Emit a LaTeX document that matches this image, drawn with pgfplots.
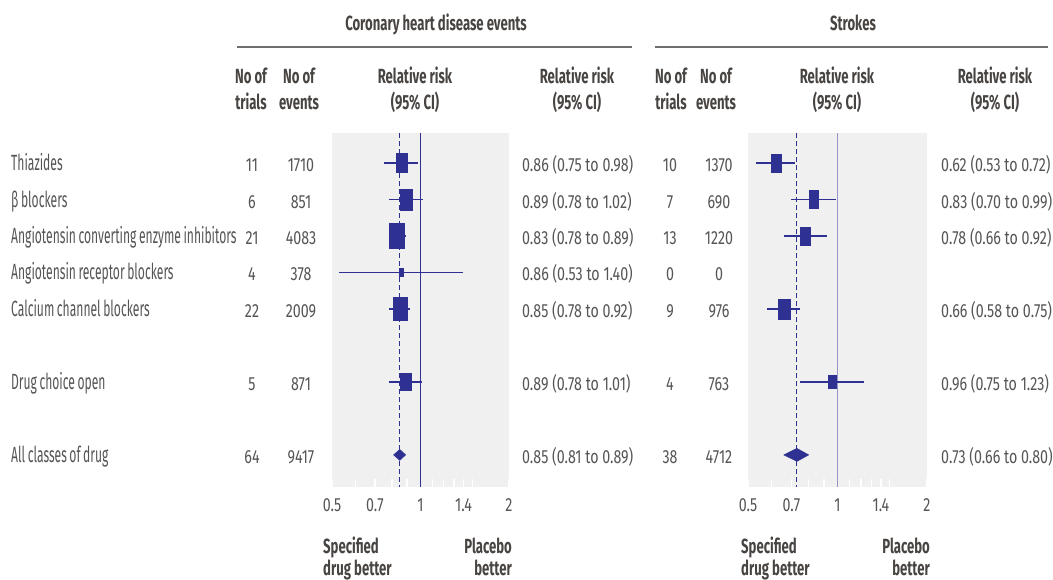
\documentclass[border=0pt]{standalone}
\usepackage{fontspec}
\setmainfont{Fira Sans}[FakeStretch=0.55, WordSpace=0.8]
\newfontfamily\numfont{Fira Sans}[FakeStretch=0.75]
\newfontfamily\hdrfont{Fira Sans}[FakeStretch=0.64]
\usepackage{pgfplots}
\pgfplotsset{compat=1.18}
\definecolor{navy}{RGB}{46,49,146}
\definecolor{refl}{RGB}{150,150,200}
\definecolor{txt}{RGB}{85,85,85}
\definecolor{hdr}{RGB}{72,68,66}
\definecolor{bg}{RGB}{240,240,240}
\definecolor{rule}{RGB}{110,110,110}

\newcommand{\lfont}{\fontsize{22}{24}\selectfont}
\newcommand{\nfont}{\numfont\fontsize{19}{21}\selectfont}
\newcommand{\hfont}{\hdrfont\bfseries\fontsize{20.5}{23}\selectfont}

\tikzset{cibar/.style={navy, line width=1.4pt},
  bx/.style={only marks, mark=square*, color=navy, mark options={xscale=#1, fill=navy, draw=navy, line width=0.1pt}}}

\begin{document}
\begin{tikzpicture}
\path[use as bounding box] (0,0) rectangle (1053pt,-579pt);

\begin{axis}[width=177pt, height=354pt, scale only axis, at={(332pt,-487pt)}, anchor=south west,
  xmode=log, xmin=0.5, xmax=2, ymin=0.18, ymax=9.88, y dir=reverse, clip=false,
  axis background/.style={fill=bg}, axis line style={draw=none},
  ytick=\empty, xtick={0.5,0.7,1,1.4,2}, xticklabels={0.5,0.7,1,1.4,2},
  minor xtick={0.6,0.8,0.9,1.1,1.2,1.3,1.5},
  tick align=inside, xtick pos=bottom, major tick length=8pt, minor tick length=8pt,
  every tick/.style={white, line width=1.2pt},
  xticklabel style={font=\nfont, text=txt, anchor=base, inner sep=0pt, yshift=-24.7pt}]
\addplot[navy, line width=1pt, dash pattern=on 5pt off 3pt] coordinates {(0.85,0.18) (0.85,9.88)};
\addplot[navy, line width=1pt] coordinates {(1,0.18) (1,9.88)};
\addplot[cibar] coordinates {(0.75,1) (0.98,1)};
\addplot[cibar] coordinates {(0.78,2) (1.02,2)};
\addplot[cibar] coordinates {(0.78,3) (0.89,3)};
\addplot[cibar] coordinates {(0.53,4) (1.40,4)};
\addplot[cibar] coordinates {(0.78,5) (0.92,5)};
\addplot[cibar] coordinates {(0.78,7) (1.01,7)};
\addplot[bx=0.58, mark size=9.5pt] coordinates {(0.86,1)};
\addplot[bx=0.57, mark size=10.5pt] coordinates {(0.89,2)};
\addplot[bx=0.60, mark size=12.5pt] coordinates {(0.83,3)};
\addplot[bx=0.50, mark size=4pt] coordinates {(0.86,4)};
\addplot[bx=0.61, mark size=11.5pt] coordinates {(0.85,5)};
\addplot[bx=0.65, mark size=8.5pt] coordinates {(0.89,7)};
\addplot[fill=navy, draw=navy, line width=0.5pt] coordinates {(0.81,9) (0.85,8.85) (0.89,9) (0.85,9.15)} -- cycle;
\end{axis}

\begin{axis}[width=179pt, height=354pt, scale only axis, at={(748pt,-487pt)}, anchor=south west,
  xmode=log, xmin=0.5, xmax=2, ymin=0.18, ymax=9.88, y dir=reverse, clip=false,
  axis background/.style={fill=bg}, axis line style={draw=none},
  ytick=\empty, xtick={0.5,0.7,1,1.4,2}, xticklabels={0.5,0.7,1,1.4,2},
  minor xtick={0.6,0.8,0.9,1.1,1.2,1.3,1.5},
  tick align=inside, xtick pos=bottom, major tick length=8pt, minor tick length=8pt,
  every tick/.style={white, line width=1.2pt},
  xticklabel style={font=\nfont, text=txt, anchor=base, inner sep=0pt, yshift=-24.7pt}]
\addplot[navy, line width=1pt, dash pattern=on 5pt off 3pt] coordinates {(0.73,0.18) (0.73,9.88)};
\addplot[refl, line width=1pt] coordinates {(1,0.18) (1,9.88)};
\addplot[cibar] coordinates {(0.53,1) (0.72,1)};
\addplot[cibar] coordinates {(0.70,2) (0.99,2)};
\addplot[cibar] coordinates {(0.66,3) (0.92,3)};
\addplot[cibar] coordinates {(0.58,5) (0.75,5)};
\addplot[cibar] coordinates {(0.75,7) (1.23,7)};
\addplot[bx=0.56, mark size=9pt] coordinates {(0.62,1)};
\addplot[bx=0.50, mark size=9pt] coordinates {(0.83,2)};
\addplot[bx=0.56, mark size=9pt] coordinates {(0.78,3)};
\addplot[bx=0.60, mark size=10pt] coordinates {(0.66,5)};
\addplot[bx=0.62, mark size=6.5pt] coordinates {(0.96,7)};
\addplot[fill=navy, draw=navy, line width=0.5pt] coordinates {(0.66,9) (0.73,8.822) (0.80,9) (0.73,9.178)} -- cycle;
\end{axis}

\begin{scope}[x=1pt, y=-1pt, every node/.style={inner sep=0pt, text=txt}]
\node[anchor=base, text=hdr, font=\hfont] at (436,30) {Coronary heart disease events};
\node[anchor=base, text=hdr, font=\hfont] at (853,30) {Strokes};
\draw[rule, line width=1.5pt] (237,47) -- (632,47);
\draw[rule, line width=1.5pt] (655,47) -- (1048,47);
\foreach \cx/\a/\b in {251/No of/trials, 299/No of/events, 415/Relative risk/(95\% CI), 577/Relative risk/(95\% CI),
                       671/No of/trials, 716/No of/events, 837/Relative risk/(95\% CI), 995/Relative risk/(95\% CI)} {
  \node[anchor=base, text=hdr, font=\hfont] at (\cx,83) {\a};
  \node[anchor=base, text=hdr, font=\hfont] at (\cx,109) {\b};
}
\foreach \yy/\lab in {170/Thiazides, 207/β blockers, 243/Angiotensin converting enzyme inhibitors,
                      279/Angiotensin receptor blockers, 316/Calcium channel blockers,
                      389/Drug choice open, 462/All classes of drug} {
  \node[anchor=base west, font=\lfont] at (11,\yy) {\lab};
}
\foreach \yy/\tr/\ev/\rr in {171/11/1710/0.86 (0.75 to 0.98), 208/6/851/0.89 (0.78 to 1.02),
    244/21/4083/0.83 (0.78 to 0.89), 280/4/378/0.86 (0.53 to 1.40), 317/22/2009/0.85 (0.78 to 0.92),
    390/5/871/0.89 (0.78 to 1.01), 463/64/9417/0.85 (0.81 to 0.89)} {
  \node[anchor=base, font=\nfont] at (252,\yy) {\tr};
  \node[anchor=base, font=\nfont] at (301,\yy) {\ev};
  \node[anchor=base west, font=\nfont] at (522,\yy) {\rr};
}
\foreach \yy/\tr/\ev/\rr in {171/10/1370/0.62 (0.53 to 0.72), 208/7/690/0.83 (0.70 to 0.99),
    244/13/1220/0.78 (0.66 to 0.92), 280/0/0/, 317/9/976/0.66 (0.58 to 0.75),
    390/4/763/0.96 (0.75 to 1.23), 463/38/4712/0.73 (0.66 to 0.80)} {
  \node[anchor=base, font=\nfont] at (670,\yy) {\tr};
  \node[anchor=base, font=\nfont] at (719,\yy) {\ev};
  \node[anchor=base west, font=\nfont] at (941,\yy) {\rr};
}
\foreach \l/\r in {323/512, 741/930} {
  \node[anchor=base west, text=hdr, font=\hfont] at (\l,553) {Specified};
  \node[anchor=base west, text=hdr, font=\hfont] at (\l,575) {drug better};
  \node[anchor=base east, text=hdr, font=\hfont] at (\r,553) {Placebo};
  \node[anchor=base east, text=hdr, font=\hfont] at (\r,575) {better};
}
\end{scope}
\end{tikzpicture}
\end{document}
